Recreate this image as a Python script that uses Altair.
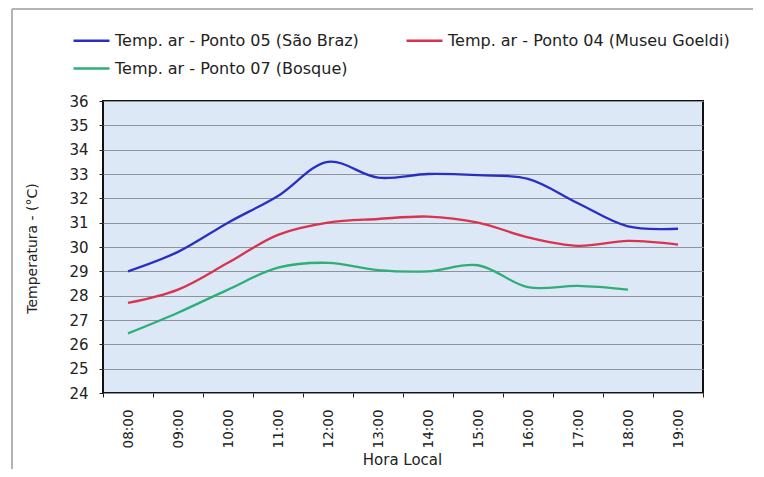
import altair as alt
import pandas as pd

hours = ["08:00", "09:00", "10:00", "11:00", "12:00", "13:00",
         "14:00", "15:00", "16:00", "17:00", "18:00", "19:00"]
ponto05 = [29.0, 29.8, 31.0, 32.1, 33.5, 32.85, 33.0, 32.95, 32.8, 31.8, 30.85, 30.75]
ponto04 = [27.7, 28.25, 29.35, 30.5, 31.0, 31.15, 31.25, 31.0, 30.4, 30.05, 30.25, 30.1]
ponto07 = [26.45, 27.3, 28.25, 29.15, 29.35, 29.05, 29.0, 29.25, 28.35, 28.4, 28.25, None]

series = ["Temp. ar - Ponto 05 (São Braz)",
          "Temp. ar - Ponto 04 (Museu Goeldi)",
          "Temp. ar - Ponto 07 (Bosque)"]
colors = ["#2a2fc4", "#d8334f", "#2fae78"]
y_ticks = list(range(24, 37))

rows = []
for name, vals in zip(series, [ponto05, ponto04, ponto07]):
    for h, v in zip(hours, vals):
        if v is not None:
            rows.append({"hora": h, "temp": v, "serie": name})
df = pd.DataFrame(rows)

FONT = "DejaVu Sans"

lines = alt.Chart(df).mark_line(interpolate="catmull-rom", strokeWidth=2.3).encode(
    x=alt.X("hora:N", sort=hours, bandPosition=0.5,
            scale=alt.Scale(type="band", paddingInner=0, paddingOuter=0),
            axis=alt.Axis(title="Hora Local", labelAngle=-90, tickBand="extent",
                          tickSize=4, labelPadding=12, grid=False, domain=False,
                          tickColor="#222", labelColor="#222", labelFont=FONT,
                          labelFontSize=13.5, titleFont=FONT, titleFontSize=15,
                          titleFontWeight="normal", titleColor="#222",
                          titleX=299, titleY=66, titleBaseline="middle",
                          titleAlign="center")),
    y=alt.Y("temp:Q", scale=alt.Scale(domain=[24, 36], nice=False, zero=False),
            axis=alt.Axis(values=y_ticks, title="Temperatura - (°C)", tickSize=4,
                          labelPadding=11, grid=True, gridColor="#8e939c",
                          gridWidth=1, domain=False, tickColor="#222",
                          labelColor="#222", labelFont=FONT, labelFontSize=15,
                          titleFont=FONT, titleFontSize=14, titleFontWeight="normal",
                          titleColor="#222", titleAngle=-90, titleX=-71, titleY=147,
                          titleAlign="center", titleBaseline="middle")),
    color=alt.Color("serie:N", sort=series,
                    scale=alt.Scale(domain=series, range=colors),
                    legend=alt.Legend(title=None, orient="none", legendX=-31,
                                      legendY=-71, columns=2, columnPadding=42,
                                      direction="horizontal",
                                      rowPadding=9, symbolType="M-1,0H3",
                                      symbolSize=324, symbolStrokeWidth=2.3,
                                      labelOffset=22, labelFont=FONT,
                                      labelFontSize=16, labelColor="#222",
                                      labelLimit=400, padding=0)),
)

frame_df = pd.DataFrame({"k": [0]})
frame_top = alt.Chart(frame_df).mark_rule(color="#9a9a9a", strokeWidth=1.5).encode(
    x=alt.value(-91), x2=alt.value(660), y=alt.value(-92), y2=alt.value(-92))
frame_left = alt.Chart(frame_df).mark_rule(color="#9a9a9a", strokeWidth=1.5).encode(
    x=alt.value(-91), x2=alt.value(-91), y=alt.value(-92), y2=alt.value(370))

chart = alt.layer(frame_top, frame_left, lines).properties(
    width=600, height=292,
    autosize=alt.AutoSizeParams(type="none"),
    padding={"left": 95, "top": 93, "right": 50, "bottom": 76},
    background="white",
).configure_view(
    fill="#dce8f6", stroke="#111", strokeWidth=2
)

chart.save("out.html", embed_options={"renderer": "svg", "actions": False})
